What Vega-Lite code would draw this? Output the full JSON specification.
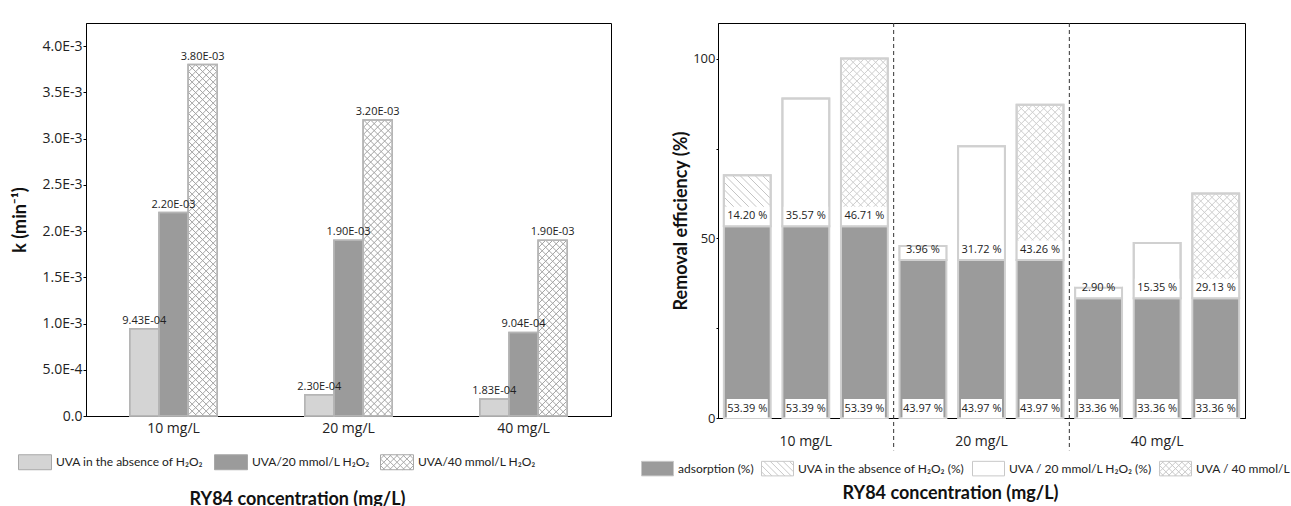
{
  "$schema": "https://vega.github.io/schema/vega-lite/v6.json",
  "padding": {"left": 10, "top": 16, "right": 0, "bottom": 0},
  "spacing": 28,
  "resolve": {"scale": {"fill": "independent", "shape": "independent"}, "legend": {"fill": "independent", "shape": "independent"}},
  "datasets": {
    "kin": [
      {"conc": "10 mg/L", "s": "UVA in the absence of H₂O₂", "k": 0.000943},
      {"conc": "10 mg/L", "s": "UVA/20 mmol/L H₂O₂", "k": 0.0022},
      {"conc": "10 mg/L", "s": "UVA/40 mmol/L H₂O₂", "k": 0.0038},
      {"conc": "20 mg/L", "s": "UVA in the absence of H₂O₂", "k": 0.00023},
      {"conc": "20 mg/L", "s": "UVA/20 mmol/L H₂O₂", "k": 0.0019},
      {"conc": "20 mg/L", "s": "UVA/40 mmol/L H₂O₂", "k": 0.0032},
      {"conc": "40 mg/L", "s": "UVA in the absence of H₂O₂", "k": 0.000183},
      {"conc": "40 mg/L", "s": "UVA/20 mmol/L H₂O₂", "k": 0.000904},
      {"conc": "40 mg/L", "s": "UVA/40 mmol/L H₂O₂", "k": 0.0019}
    ],
    "bars": [
      {"bar": "10a", "conc": "10 mg/L", "s": "UVA in the absence of H₂O₂ (%)", "ads": 53.39, "extra": 14.2, "total": 67.59},
      {"bar": "10b", "conc": "10 mg/L", "s": "UVA / 20 mmol/L H₂O₂ (%)", "ads": 53.39, "extra": 35.57, "total": 88.96},
      {"bar": "10c", "conc": "10 mg/L", "s": "UVA / 40 mmol/L H₂O₂ (%)", "ads": 53.39, "extra": 46.71, "total": 100.1},
      {"bar": "20a", "conc": "20 mg/L", "s": "UVA in the absence of H₂O₂ (%)", "ads": 43.97, "extra": 3.96, "total": 47.93},
      {"bar": "20b", "conc": "20 mg/L", "s": "UVA / 20 mmol/L H₂O₂ (%)", "ads": 43.97, "extra": 31.72, "total": 75.69},
      {"bar": "20c", "conc": "20 mg/L", "s": "UVA / 40 mmol/L H₂O₂ (%)", "ads": 43.97, "extra": 43.26, "total": 87.23},
      {"bar": "40a", "conc": "40 mg/L", "s": "UVA in the absence of H₂O₂ (%)", "ads": 33.36, "extra": 2.9, "total": 36.26},
      {"bar": "40b", "conc": "40 mg/L", "s": "UVA / 20 mmol/L H₂O₂ (%)", "ads": 33.36, "extra": 15.35, "total": 48.71},
      {"bar": "40c", "conc": "40 mg/L", "s": "UVA / 40 mmol/L H₂O₂ (%)", "ads": 33.36, "extra": 29.13, "total": 62.49}
    ]
  },
  "hconcat": [
    {
      "width": 525,
      "height": 393,
      "data": {"name": "kin"},
      "layer": [
        {
          "mark": {"type": "bar", "stroke": "#b5b5b5", "strokeWidth": 1.5},
          "encoding": {
            "x": {"field": "conc", "type": "nominal",
              "scale": {"domain": ["10 mg/L", "20 mg/L", "40 mg/L"], "paddingInner": 0.5, "paddingOuter": 0.25},
              "axis": {"title": "RY84 concentration (mg/L)", "labelAngle": 0, "ticks": false, "tickSize": 0, "labelPadding": 5, "labelFontSize": 14, "titleFontSize": 18, "titlePadding": 55, "titleX": 211}},
            "xOffset": {"field": "s", "type": "nominal",
              "scale": {"domain": ["UVA in the absence of H₂O₂", "UVA/20 mmol/L H₂O₂", "UVA/40 mmol/L H₂O₂"], "paddingInner": 0, "paddingOuter": 0}},
            "y": {"field": "k", "type": "quantitative",
              "scale": {"domain": [0, 0.00425], "nice": false},
              "axis": {"title": "k (min⁻¹)", "values": [0, 0.00025, 0.0005, 0.00075, 0.001, 0.00125, 0.0015, 0.00175, 0.002, 0.00225, 0.0025, 0.00275, 0.003, 0.00325, 0.0035, 0.00375, 0.004],
                "labelExpr": "datum.value == 0 ? '0.0' : (round(datum.value*4000) % 2 == 1 ? '' : format(datum.value / pow(10, floor(log(datum.value)/LN10 + 1e-9)), '.1f') + 'E' + floor(log(datum.value)/LN10 + 1e-9))",
                "labelFontSize": 14, "titleFontSize": 18, "tickSize": 3, "labelPadding": 1, "titlePadding": 13}},
            "fill": {"field": "s", "type": "nominal",
              "scale": {"domain": ["UVA in the absence of H₂O₂", "UVA/20 mmol/L H₂O₂", "UVA/40 mmol/L H₂O₂"], "range": ["#d4d4d4", "#9b9b9b", "#ffffff"]},
              "legend": {"title": null, "orient": "none", "legendX": -68, "legendY": 422, "direction": "horizontal", "symbolSize": 1089, "symbolStrokeColor": "#a8a8a8", "symbolStrokeWidth": 1, "columnPadding": 8, "padding": 0, "labelOffset": 4, "labelLimit": 400, "labelFontSize": 12, "labelFont": "Lato"}}
          }
        },
        {
          "transform": [{"filter": {"field": "s", "equal": "UVA/40 mmol/L H₂O₂"}}],
          "mark": {"type": "point", "shape": "M-7,0L14,21M0,0L14,14M7,0L14,7M-14,0l28,28m-28,-21l28,28m-28,-21l28,28m-28,-21l28,28m-28,-21l28,28m-28,-21l28,28m-28,-21l28,28m-28,-21l28,28m-28,-21l28,28m-28,-21l28,28m-28,-21l28,28m-28,-21l28,28m-28,-21l28,28m-28,-21l28,28m-28,-21l28,28m-28,-21l28,28m-28,-21l28,28m-28,-21l28,28m-28,-21l28,28m-28,-21l28,28m-28,-21l28,28m-28,-21l28,28m-28,-21l28,28m-28,-21l28,28m-28,-21l28,28m-28,-21l28,28m-28,-21l28,28m-28,-21l28,28m-28,-21l28,28m-28,-21l28,28m-28,-21l28,28m-28,-21l28,28m-28,-21l28,28m-28,-21l28,28m-28,-21l28,28m-28,-21l28,28m-28,-21l28,28m-28,-21l28,28m-28,-21l28,28m-28,-21l28,28m-28,-21l28,28m-28,-21l28,28m-28,-21l28,28m-28,-21l28,28m-28,-21l28,28m-28,-21l28,28m-28,-21l28,28m-28,-21l28,28m-28,-21l28,28m-28,-21l28,28M-14,21L7,0M-14,14L0,0M-14,7L-7,0M-14,28l28,-28m-28,35l28,-28m-28,35l28,-28m-28,35l28,-28m-28,35l28,-28m-28,35l28,-28m-28,35l28,-28m-28,35l28,-28m-28,35l28,-28m-28,35l28,-28m-28,35l28,-28m-28,35l28,-28m-28,35l28,-28m-28,35l28,-28m-28,35l28,-28m-28,35l28,-28m-28,35l28,-28m-28,35l28,-28m-28,35l28,-28m-28,35l28,-28m-28,35l28,-28m-28,35l28,-28m-28,35l28,-28m-28,35l28,-28m-28,35l28,-28m-28,35l28,-28m-28,35l28,-28m-28,35l28,-28m-28,35l28,-28m-28,35l28,-28m-28,35l28,-28m-28,35l28,-28m-28,35l28,-28m-28,35l28,-28m-28,35l28,-28m-28,35l28,-28m-28,35l28,-28m-28,35l28,-28m-28,35l28,-28m-28,35l28,-28m-28,35l28,-28m-28,35l28,-28m-28,35l28,-28m-28,35l28,-28m-28,35l28,-28m-28,35l28,-28m-28,35l28,-28m-28,35l28,-28m-28,35l28,-28m-28,35l28,-28",
            "size": 4, "filled": false, "stroke": "#a3a3a3", "strokeWidth": 1, "opacity": 1, "clip": true},
          "encoding": {
            "x": {"field": "conc", "type": "nominal"},
            "xOffset": {"field": "s", "type": "nominal"},
            "y": {"field": "k", "type": "quantitative"}
          }
        },
        {
          "mark": {"type": "bar", "fillOpacity": 0, "stroke": "#b5b5b5", "strokeWidth": 1.5},
          "encoding": {
            "x": {"field": "conc", "type": "nominal"},
            "xOffset": {"field": "s", "type": "nominal"},
            "y": {"field": "k", "type": "quantitative"}
          }
        },
        {
          "mark": {"type": "text", "font": "Open Sans", "fontSize": 11, "color": "#222", "baseline": "alphabetic", "dy": -5,
            "text": {"expr": "replace(upper(format(datum.k,'.2e')),'E-','E-0')"}},
          "encoding": {
            "x": {"field": "conc", "type": "nominal"},
            "xOffset": {"field": "s", "type": "nominal"},
            "y": {"field": "k", "type": "quantitative"}
          }
        },
        {
          "mark": {"type": "point", "filled": true, "opacity": 1, "stroke": "#a8a8a8", "strokeWidth": 1, "size": 1089, "clip": true},
          "encoding": {
            "x": {"field": "conc", "type": "nominal"},
            "y": {"datum": -0.002, "type": "quantitative", "scale": {"domain": [0, 0.00425], "nice": false}},
            "fill": {"field": "s", "type": "nominal",
              "legend": {"title": null, "orient": "none", "legendX": -68, "legendY": 422, "direction": "horizontal", "symbolSize": 1089, "symbolStrokeColor": "#a8a8a8", "symbolStrokeWidth": 1, "columnPadding": 8, "padding": 0, "labelOffset": 4, "labelLimit": 400, "labelFontSize": 12, "labelFont": "Lato"}},
            "shape": {"field": "s", "type": "nominal",
              "scale": {"domain": ["UVA in the absence of H₂O₂", "UVA/20 mmol/L H₂O₂", "UVA/40 mmol/L H₂O₂"],
                "range": ["M-1,-0.4545H1V0.4545H-1Z", "M-1,-0.4545H1V0.4545H-1Z", "M-1,-0.4545H1V0.4545H-1ZM0.7455,-0.4545L1,-0.2M0.3455,-0.4545L1,0.2M-0.0545,-0.4545L0.8545,0.4545M-0.4545,-0.4545L0.4545,0.4545M-0.8545,-0.4545L0.0545,0.4545M-1,-0.2L-0.3455,0.4545M-1,0.2L-0.7455,0.4545M-1,-0.2L-0.7455,-0.4545M-1,0.2L-0.3455,-0.4545M-0.8545,0.4545L0.0545,-0.4545M-0.4545,0.4545L0.4545,-0.4545M-0.0545,0.4545L0.8545,-0.4545M0.3455,0.4545L1,-0.2M0.7455,0.4545L1,0.2"]},
              "legend": {"title": null, "orient": "none", "legendX": -68, "legendY": 422, "direction": "horizontal", "symbolSize": 1089, "symbolStrokeColor": "#a8a8a8", "symbolStrokeWidth": 1, "columnPadding": 8, "padding": 0, "labelOffset": 4, "labelLimit": 400, "labelFontSize": 12, "labelFont": "Lato"}}
          }
        }
      ]
    },
    {
      "width": 527,
      "height": 395,
      "title": {"text": " ", "fontSize": 1, "offset": 5},
      "layer": [
        {
          "data": {"name": "bars"},
          "layer": [
            {
              "mark": {"type": "bar", "stroke": "#d0d0d0", "strokeWidth": 2},
              "encoding": {
                "x": {"field": "bar", "type": "nominal",
                  "scale": {"domain": ["10a", "10b", "10c", "20a", "20b", "20c", "40a", "40b", "40c"], "paddingInner": 0.2, "paddingOuter": 0.1},
                  "axis": {"title": "RY84 concentration (mg/L)", "labelAngle": 0, "ticks": false, "tickSize": 0, "labelPadding": 16, "labelFontSize": 14, "titleFontSize": 18, "titlePadding": 36, "titleX": 232,
                    "labelExpr": "datum.value == '10b' ? '10 mg/L' : datum.value == '20b' ? '20 mg/L' : datum.value == '40b' ? '40 mg/L' : ''"}},
                "y": {"field": "ads", "type": "quantitative",
                  "scale": {"domain": [0, 110], "nice": false},
                  "axis": {"title": "Removal efficiency (%)", "values": [0, 25, 50, 75, 100], "labelExpr": "datum.value % 50 == 0 ? datum.label : ''", "labelFontSize": 13, "titleFontSize": 18, "tickSize": 2, "labelPadding": 1, "titlePadding": 2}},
                "y2": {"field": "total"},
                "fill": {"field": "s", "type": "nominal",
                  "scale": {"domain": ["adsorption (%)", "UVA in the absence of H₂O₂ (%)", "UVA / 20 mmol/L H₂O₂ (%)", "UVA / 40 mmol/L H₂O₂ (%)"], "range": ["#9b9b9b", "#ffffff", "#ffffff", "#ffffff"]},
                  "legend": {"title": null, "orient": "none", "legendX": -77, "legendY": 429, "direction": "horizontal", "symbolSize": 1024, "symbolStrokeColor": "#c8c8c8", "symbolStrokeWidth": 1, "columnPadding": 5, "padding": 0, "labelOffset": 4, "labelLimit": 400, "labelFontSize": 12, "labelFont": "Lato"}}
              }
            },
            {
              "transform": [{"filter": {"field": "s", "equal": "UVA in the absence of H₂O₂ (%)"}}],
              "mark": {"type": "point", "shape": "M-15,0L22.5,37.5M-7.5,0L22.5,30M0,0L22.5,22.5M7.5,0L22.5,15M15,0L22.5,7.5M-22.5,0l45,45m-45,-37.5l45,45m-45,-37.5l45,45m-45,-37.5l45,45m-45,-37.5l45,45m-45,-37.5l45,45m-45,-37.5l45,45m-45,-37.5l45,45m-45,-37.5l45,45m-45,-37.5l45,45m-45,-37.5l45,45m-45,-37.5l45,45m-45,-37.5l45,45m-45,-37.5l45,45m-45,-37.5l45,45m-45,-37.5l45,45m-45,-37.5l45,45m-45,-37.5l45,45m-45,-37.5l45,45m-45,-37.5l45,45m-45,-37.5l45,45m-45,-37.5l45,45m-45,-37.5l45,45m-45,-37.5l45,45",
                "size": 4, "filled": false, "stroke": "#c4c4c4", "strokeWidth": 1, "opacity": 1, "clip": true},
              "encoding": {
                "x": {"field": "bar", "type": "nominal"},
                "y": {"field": "total", "type": "quantitative"}
              }
            },
            {
              "transform": [{"filter": {"field": "s", "equal": "UVA / 40 mmol/L H₂O₂ (%)"}}],
              "mark": {"type": "point", "shape": "M-15,0L22.5,37.5M-7.5,0L22.5,30M0,0L22.5,22.5M7.5,0L22.5,15M15,0L22.5,7.5M-22.5,0l45,45m-45,-37.5l45,45m-45,-37.5l45,45m-45,-37.5l45,45m-45,-37.5l45,45m-45,-37.5l45,45m-45,-37.5l45,45m-45,-37.5l45,45m-45,-37.5l45,45m-45,-37.5l45,45m-45,-37.5l45,45m-45,-37.5l45,45m-45,-37.5l45,45m-45,-37.5l45,45m-45,-37.5l45,45m-45,-37.5l45,45m-45,-37.5l45,45m-45,-37.5l45,45m-45,-37.5l45,45m-45,-37.5l45,45m-45,-37.5l45,45m-45,-37.5l45,45m-45,-37.5l45,45m-45,-37.5l45,45M-22.5,37.5L15,0M-22.5,30L7.5,0M-22.5,22.5L0,0M-22.5,15L-7.5,0M-22.5,7.5L-15,0M-22.5,45l45,-45m-45,52.5l45,-45m-45,52.5l45,-45m-45,52.5l45,-45m-45,52.5l45,-45m-45,52.5l45,-45m-45,52.5l45,-45m-45,52.5l45,-45m-45,52.5l45,-45m-45,52.5l45,-45m-45,52.5l45,-45m-45,52.5l45,-45m-45,52.5l45,-45m-45,52.5l45,-45m-45,52.5l45,-45m-45,52.5l45,-45m-45,52.5l45,-45m-45,52.5l45,-45m-45,52.5l45,-45m-45,52.5l45,-45m-45,52.5l45,-45m-45,52.5l45,-45m-45,52.5l45,-45m-45,52.5l45,-45",
                "size": 4, "filled": false, "stroke": "#cdcdcd", "strokeWidth": 1, "opacity": 1, "clip": true},
              "encoding": {
                "x": {"field": "bar", "type": "nominal"},
                "y": {"field": "total", "type": "quantitative"}
              }
            },
            {
              "mark": {"type": "bar", "color": "#9b9b9b", "stroke": "#d0d0d0", "strokeWidth": 2},
              "encoding": {
                "x": {"field": "bar", "type": "nominal"},
                "y": {"field": "ads", "type": "quantitative"}
              }
            },
            {
              "mark": {"type": "tick", "orient": "horizontal", "color": "#ffffff", "opacity": 1, "size": 47, "thickness": 19, "yOffset": -10},
              "encoding": {
                "x": {"field": "bar", "type": "nominal"},
                "y": {"field": "ads", "type": "quantitative"}
              }
            },
            {
              "mark": {"type": "tick", "orient": "horizontal", "color": "#ffffff", "opacity": 1, "size": 41, "thickness": 19, "yOffset": -9.5},
              "encoding": {
                "x": {"field": "bar", "type": "nominal"},
                "y": {"datum": 0, "type": "quantitative"}
              }
            },
            {
              "mark": {"type": "bar", "fillOpacity": 0, "stroke": "#d0d0d0", "strokeWidth": 2},
              "encoding": {
                "x": {"field": "bar", "type": "nominal"},
                "y": {"field": "ads", "type": "quantitative"},
                "y2": {"field": "total"}
              }
            },
            {
              "mark": {"type": "text", "font": "Open Sans", "fontSize": 11, "color": "#222", "baseline": "middle", "dy": -10,
                "text": {"expr": "format(datum.extra,'.2f') + ' %'"}},
              "encoding": {
                "x": {"field": "bar", "type": "nominal"},
                "y": {"field": "ads", "type": "quantitative"}
              }
            },
            {
              "mark": {"type": "text", "font": "Open Sans", "fontSize": 11, "color": "#222", "baseline": "middle", "dy": -9.5,
                "text": {"expr": "format(datum.ads,'.2f') + ' %'"}},
              "encoding": {
                "x": {"field": "bar", "type": "nominal"},
                "y": {"datum": 0, "type": "quantitative"}
              }
            },
            {
              "mark": {"type": "point", "filled": true, "opacity": 1, "stroke": "#c8c8c8", "strokeWidth": 1, "size": 1024, "clip": true},
              "encoding": {
                "x": {"field": "bar", "type": "nominal"},
                "y": {"datum": -40, "type": "quantitative", "scale": {"domain": [0, 110], "nice": false}},
                "fill": {"field": "s", "type": "nominal",
                  "legend": {"title": null, "orient": "none", "legendX": -77, "legendY": 429, "direction": "horizontal", "symbolSize": 1024, "symbolStrokeColor": "#c8c8c8", "symbolStrokeWidth": 1, "columnPadding": 5, "padding": 0, "labelOffset": 4, "labelLimit": 400, "labelFontSize": 12, "labelFont": "Lato"}},
                "shape": {"field": "s", "type": "nominal",
                  "scale": {"domain": ["adsorption (%)", "UVA in the absence of H₂O₂ (%)", "UVA / 20 mmol/L H₂O₂ (%)", "UVA / 40 mmol/L H₂O₂ (%)"],
                    "range": ["M-1,-0.4545H1V0.4545H-1Z", "M-1,-0.4545H1V0.4545H-1ZM0.7455,-0.4545L1,-0.2M0.3455,-0.4545L1,0.2M-0.0545,-0.4545L0.8545,0.4545M-0.4545,-0.4545L0.4545,0.4545M-0.8545,-0.4545L0.0545,0.4545M-1,-0.2L-0.3455,0.4545M-1,0.2L-0.7455,0.4545", "M-1,-0.4545H1V0.4545H-1Z", "M-1,-0.4545H1V0.4545H-1ZM0.7455,-0.4545L1,-0.2M0.3455,-0.4545L1,0.2M-0.0545,-0.4545L0.8545,0.4545M-0.4545,-0.4545L0.4545,0.4545M-0.8545,-0.4545L0.0545,0.4545M-1,-0.2L-0.3455,0.4545M-1,0.2L-0.7455,0.4545M-1,-0.2L-0.7455,-0.4545M-1,0.2L-0.3455,-0.4545M-0.8545,0.4545L0.0545,-0.4545M-0.4545,0.4545L0.4545,-0.4545M-0.0545,0.4545L0.8545,-0.4545M0.3455,0.4545L1,-0.2M0.7455,0.4545L1,0.2"]},
                  "legend": {"title": null, "orient": "none", "legendX": -77, "legendY": 429, "direction": "horizontal", "symbolSize": 1024, "symbolStrokeColor": "#c8c8c8", "symbolStrokeWidth": 1, "columnPadding": 5, "padding": 0, "labelOffset": 4, "labelLimit": 400, "labelFontSize": 12, "labelFont": "Lato"}}
              }
            }
          ]
        },
        {
          "data": {"values": [{"b": 3}, {"b": 6}]},
          "mark": {"type": "rule", "color": "#333", "strokeDash": [4, 3], "strokeWidth": 1},
          "encoding": {
            "x": {"field": "b", "type": "quantitative", "scale": {"domain": [0, 9], "nice": false}, "axis": null},
            "y": {"datum": 110, "type": "quantitative", "scale": {"domain": [0, 110], "nice": false}},
            "y2": {"datum": -9}
          }
        }
      ],
      "resolve": {"scale": {"x": "independent"}}
    }
  ],
  "config": {
    "view": {"stroke": "#000", "strokeWidth": 1},
    "axis": {"domainColor": "#000", "tickColor": "#000", "labelColor": "#222", "titleColor": "#111", "labelFont": "Open Sans", "titleFont": "Lato", "titleFontWeight": "bold", "grid": false},
    "legend": {"labelFont": "Lato", "labelFontSize": 12, "labelColor": "#222"}
  }
}
